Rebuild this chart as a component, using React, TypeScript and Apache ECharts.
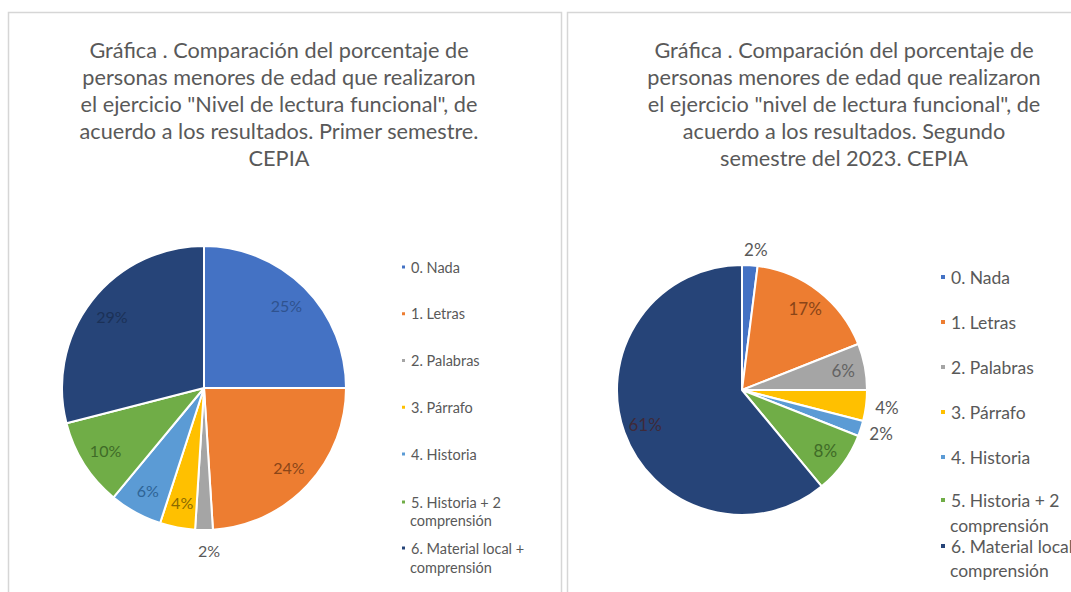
import React, { useEffect, useRef } from "react";
import * as echarts from "echarts";

const categories = [
  "0. Nada",
  "1. Letras",
  "2. Palabras",
  "3. Párrafo",
  "4. Historia",
  "5. Historia + 2 comprensión",
  "6. Material local + comprensión",
];
const legendFirstLines = [
  "0. Nada",
  "1. Letras",
  "2. Palabras",
  "3. Párrafo",
  "4. Historia",
  "5. Historia + 2",
  "6. Material local +",
];
const legendSecondLine = "comprensión";
const firstSemester = [25, 24, 2, 4, 6, 10, 29];
const secondSemester = [2, 17, 6, 4, 2, 8, 61];
const sliceColors = ["#4472C4", "#ED7D31", "#A5A5A5", "#FFC000", "#5B9BD5", "#70AD47", "#264478"];
const labelColors = ["#2F528F", "#8A4518", "#636363", "#8A6A00", "#2E6496", "#3F6B27", "#1B3157"];
const outsideFirst = [false, false, true, false, false, false, false];
const outsideSecond = [true, false, false, true, true, false, false];

const titleFirst =
  "Gráfica . Comparación del porcentaje de\npersonas menores de edad que realizaron\nel ejercicio \"Nivel de lectura funcional\", de\nacuerdo a los resultados. Primer semestre.\nCEPIA";
const titleSecond =
  "Gráfica . Comparación del porcentaje de\npersonas menores de edad que realizaron\nel ejercicio \"nivel de lectura funcional\", de\nacuerdo a los resultados. Segundo\nsemestre del 2023. CEPIA";

const FONT = "Lato, 'Open Sans', sans-serif";
const GREY = "#595959";

function mainPie(values: number[], outside: boolean[], center: number[], r: number, fontSize: number, len: number) {
  return {
    type: "pie",
    center,
    radius: r,
    startAngle: 90,
    clockwise: true,
    avoidLabelOverlap: false,
    emphasis: { scale: false },
    itemStyle: { borderColor: "#ffffff", borderWidth: 2 },
    label: {
      position: "outside",
      formatter: "{c}%",
      color: GREY,
      fontSize,
      fontFamily: FONT,
    },
    labelLine: { show: false, length: len, length2: 0 },
    labelLayout: { align: "center", verticalAlign: "middle" },
    data: values.map((v, i) => ({
      value: v,
      name: categories[i],
      itemStyle: { color: sliceColors[i] },
      label: { show: outside[i] },
    })),
  };
}

function labelPie(values: number[], outside: boolean[], center: number[], r: number, fontSize: number, colors: string[]) {
  return {
    type: "pie",
    center,
    radius: r,
    startAngle: 90,
    clockwise: true,
    silent: true,
    avoidLabelOverlap: false,
    itemStyle: { color: "rgba(0,0,0,0)", borderWidth: 0 },
    label: {
      position: "inside",
      formatter: "{c}%",
      fontSize,
      fontFamily: FONT,
    },
    labelLine: { show: false },
    data: values.map((v, i) => ({
      value: v,
      name: categories[i],
      itemStyle: { color: "rgba(0,0,0,0)" },
      label: { show: !outside[i], color: colors[i] },
    })),
  };
}

function legend(names: string[], left: number, top: number, fontSize: number, lineHeight: number, gap: number, icon: number) {
  return {
    orient: "vertical",
    left,
    top,
    padding: 0,
    icon: "rect",
    itemWidth: icon,
    itemHeight: icon,
    itemGap: gap,
    selectedMode: false,
    data: names,
    formatter: (n: string) => legendFirstLines[categories.indexOf(n)],
    textStyle: { color: GREY, fontSize, fontFamily: FONT, lineHeight },
  };
}

function secondLine(x: number, y: number, fontSize: number, lineHeight: number) {
  return {
    type: "text",
    x,
    y,
    silent: true,
    style: {
      text: legendSecondLine,
      fill: GREY,
      fontSize,
      lineHeight,
      fontFamily: FONT,
      align: "left",
      verticalAlign: "middle",
    },
  };
}

export default function App() {
  const ref = useRef<HTMLDivElement>(null);
  useEffect(() => {
    if (!ref.current) return;
    const chart = echarts.init(ref.current, null, { renderer: "svg" });
    const rightLabelColors = labelColors.map((c, i) => (i === 6 ? "#3E2A3A" : c));
    const titleStyle = { fontFamily: FONT, fontSize: 21.7, fontWeight: "normal", color: GREY, lineHeight: 27 };
    chart.setOption({
      animation: false,
      backgroundColor: "#ffffff",
      title: [
        {
          text: titleFirst,
          left: 279,
          top: 36.5,
          padding: 0,
          textAlign: "center",
          textVerticalAlign: "top",
          textStyle: titleStyle,
        },
        {
          text: titleSecond,
          left: 844,
          top: 36.5,
          padding: 0,
          textAlign: "center",
          textVerticalAlign: "top",
          textStyle: titleStyle,
        },
      ],
      legend: [
        legend(categories.slice(0, 5), 400, 258.5, 14.5, 17, 29.75, 5),
        legend([categories[5]], 400, 493.5, 14.5, 17, 0, 5),
        legend([categories[6]], 400, 539.5, 14.5, 17, 0, 5),
        legend(categories.slice(0, 5), 939, 266.5, 17.5, 21, 24, 6),
        legend([categories[5]], 939, 491, 17.5, 18, 0, 6),
        legend([categories[6]], 939, 537, 17.5, 18, 0, 6),
      ],
      graphic: [
        {
          type: "rect",
          shape: { x: 8.5, y: 12.5, width: 553, height: 600 },
          style: { fill: "none", stroke: "#d6d6d6", lineWidth: 1.5 },
          silent: true,
        },
        {
          type: "rect",
          shape: { x: 567.5, y: 12.5, width: 520, height: 600 },
          style: { fill: "none", stroke: "#d6d6d6", lineWidth: 1.5 },
          silent: true,
        },
        secondLine(410, 520, 14.5, 17),
        secondLine(410, 567, 14.5, 17),
        secondLine(950, 525.5, 17.5, 18),
        secondLine(950, 570, 17.5, 18),
      ],
      series: [
        mainPie(firstSemester, outsideFirst, [204, 388], 142, 16, 20),
        mainPie(secondSemester, outsideSecond, [742, 390], 125, 17, 16),
        labelPie(firstSemester, outsideFirst, [204, 388], 142 * 1.6, 16, labelColors),
        labelPie(secondSemester, outsideSecond, [742, 390], 125 * 1.6, 17, rightLabelColors),
      ],
    });
    return () => chart.dispose();
  }, []);
  return (
    <div
      ref={ref}
      style={{ position: "fixed", left: 0, top: 0, width: 1071, height: 592, background: "#fff" }}
    />
  );
}
